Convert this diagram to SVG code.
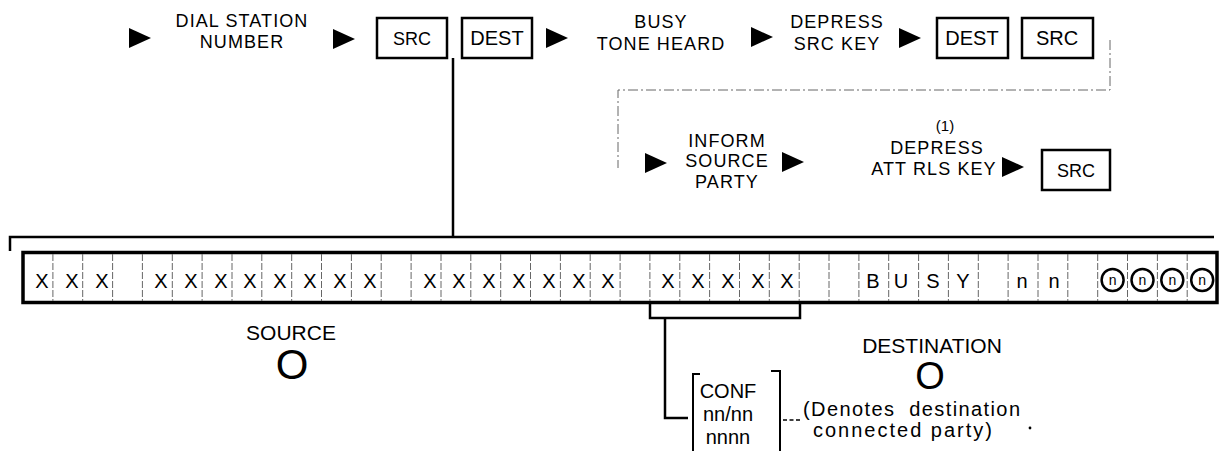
<svg xmlns="http://www.w3.org/2000/svg" width="1221" height="451" viewBox="0 0 1221 451">
<style>
.t{font-family:"Liberation Sans",Arial,Helvetica,sans-serif;font-size:20px;text-anchor:middle;fill:#000}
.l{font-size:18px;letter-spacing:1.1px}
.s{font-size:18px}
.box{fill:#fff;stroke:#000;stroke-width:2.5}
.ln{fill:none;stroke:#000;stroke-width:2.5}
.dot{fill:none;stroke:#666;stroke-width:1;stroke-dasharray:10 3 2 3}
.sep{stroke:#666;stroke-width:1;stroke-dasharray:7 2}
.circ{fill:#fff;stroke:#000;stroke-width:2.5}
</style>
<defs>
<path id="tri" d="M0,-10 L22,0 L0,10Z" fill="#000"/>
</defs>

<g id="connectors">
<path class="ln" d="M453,58 V237"/>
<path class="ln" d="M10,251 V237 H1214"/>
<path class="dot" d="M1110,40 V90 H618 V168"/>
<path class="ln" d="M650,303 V318 H800 V303"/>
<path class="ln" d="M665,318 V418 H688"/>
<line x1="783" y1="420" x2="802" y2="420" stroke="#000" stroke-width="1.5" stroke-dasharray="4 2.5"/>
</g>

<g id="arrows">
<use href="#tri" x="129" y="38"/>
<use href="#tri" x="333" y="39"/>
<use href="#tri" x="546" y="38"/>
<use href="#tri" x="751" y="37"/>
<use href="#tri" x="899" y="38"/>
<use href="#tri" x="645" y="163"/>
<use href="#tri" x="782" y="162"/>
<use href="#tri" x="1002" y="167"/>
</g>

<g id="dial-station-number">
<text class="t l" x="242" y="27">DIAL STATION</text>
<text class="t l" x="242" y="48">NUMBER</text>
</g>
<g id="key-src-1"><rect class="box" x="377" y="18" width="70" height="40"/><text class="t s" x="412" y="45">SRC</text></g>
<g id="key-dest-1"><rect class="box" x="462" y="18" width="70" height="40"/><text class="t" x="497" y="45">DEST</text></g>
<g id="busy-tone">
<text class="t l" x="661" y="28">BUSY</text>
<text class="t l" x="661" y="50">TONE HEARD</text>
</g>
<g id="depress-src">
<text class="t l" x="837" y="28">DEPRESS</text>
<text class="t l" x="837" y="50">SRC KEY</text>
</g>
<g id="key-dest-2"><rect class="box" x="937" y="18" width="71" height="40"/><text class="t" x="972" y="45">DEST</text></g>
<g id="key-src-2"><rect class="box" x="1022" y="18" width="71" height="40"/><text class="t" x="1057" y="45">SRC</text></g>

<g id="inform-source">
<text class="t l" x="727" y="147">INFORM</text>
<text class="t l" x="727" y="167">SOURCE</text>
<text class="t l" x="727" y="188">PARTY</text>
</g>
<g id="depress-att-rls">
<text class="t" style="font-size:15px" x="945" y="131">(1)</text>
<text class="t l" x="937" y="154">DEPRESS</text>
<text class="t l" x="934" y="175">ATT RLS KEY</text>
</g>
<g id="key-src-3"><rect class="box" x="1042" y="150" width="68" height="40"/><text class="t s" x="1076" y="177">SRC</text></g>

<g id="display">
<rect x="23" y="252.5" width="1194" height="50" fill="#fff" stroke="#000" stroke-width="3.5"/>
<g class="sep">
<line x1="52.9" y1="254" x2="52.9" y2="301"/><line x1="82.7" y1="254" x2="82.7" y2="301"/><line x1="112.6" y1="254" x2="112.6" y2="301"/><line x1="142.4" y1="254" x2="142.4" y2="301"/><line x1="172.3" y1="254" x2="172.3" y2="301"/><line x1="202.1" y1="254" x2="202.1" y2="301"/><line x1="232" y1="254" x2="232" y2="301"/><line x1="261.8" y1="254" x2="261.8" y2="301"/><line x1="291.7" y1="254" x2="291.7" y2="301"/><line x1="321.5" y1="254" x2="321.5" y2="301"/>
<line x1="351.4" y1="254" x2="351.4" y2="301"/><line x1="381.2" y1="254" x2="381.2" y2="301"/><line x1="411.1" y1="254" x2="411.1" y2="301"/><line x1="441" y1="254" x2="441" y2="301"/><line x1="470.8" y1="254" x2="470.8" y2="301"/><line x1="500.7" y1="254" x2="500.7" y2="301"/><line x1="530.5" y1="254" x2="530.5" y2="301"/><line x1="560.4" y1="254" x2="560.4" y2="301"/><line x1="590.2" y1="254" x2="590.2" y2="301"/><line x1="620.1" y1="254" x2="620.1" y2="301"/>
<line x1="649.9" y1="254" x2="649.9" y2="301"/><line x1="679.8" y1="254" x2="679.8" y2="301"/><line x1="709.6" y1="254" x2="709.6" y2="301"/><line x1="739.5" y1="254" x2="739.5" y2="301"/><line x1="769.3" y1="254" x2="769.3" y2="301"/><line x1="799.2" y1="254" x2="799.2" y2="301"/><line x1="829" y1="254" x2="829" y2="301"/><line x1="858.9" y1="254" x2="858.9" y2="301"/><line x1="888.7" y1="254" x2="888.7" y2="301"/><line x1="918.6" y1="254" x2="918.6" y2="301"/>
<line x1="948.4" y1="254" x2="948.4" y2="301"/><line x1="978.3" y1="254" x2="978.3" y2="301"/><line x1="1008.1" y1="254" x2="1008.1" y2="301"/><line x1="1038" y1="254" x2="1038" y2="301"/><line x1="1067.8" y1="254" x2="1067.8" y2="301"/><line x1="1097.7" y1="254" x2="1097.7" y2="301"/><line x1="1127.5" y1="254" x2="1127.5" y2="301"/><line x1="1157.4" y1="254" x2="1157.4" y2="301"/><line x1="1187.2" y1="254" x2="1187.2" y2="301"/>
</g>
<g class="t">
<text x="42" y="288">X</text><text x="72" y="288">X</text><text x="102" y="288">X</text>
<text x="161" y="288">X</text><text x="191" y="288">X</text><text x="221" y="288">X</text><text x="250" y="288">X</text><text x="280" y="288">X</text><text x="310" y="288">X</text><text x="340" y="288">X</text><text x="370" y="288">X</text>
<text x="430" y="288">X</text><text x="459" y="288">X</text><text x="489" y="288">X</text><text x="519" y="288">X</text><text x="549" y="288">X</text><text x="579" y="288">X</text><text x="608" y="288">X</text>
<text x="668" y="288">X</text><text x="698" y="288">X</text><text x="728" y="288">X</text><text x="758" y="288">X</text><text x="787" y="288">X</text>
<text x="873" y="288">B</text><text x="901" y="288">U</text><text x="933" y="288">S</text><text x="963" y="288">Y</text>
<text x="1022" y="288">n</text><text x="1054" y="288">n</text>
</g>
<circle class="circ" cx="1112.6" cy="280" r="11"/>
<circle class="circ" cx="1142.5" cy="280" r="11"/>
<circle class="circ" cx="1172.3" cy="280" r="11"/>
<circle class="circ" cx="1202.2" cy="280" r="11"/>
<g class="t" style="font-size:14px">
<text x="1112.6" y="285">n</text><text x="1142.5" y="285">n</text><text x="1172.3" y="285">n</text><text x="1202.2" y="285">n</text>
</g>
</g>

<g id="source">
<text class="t" style="font-size:21px" x="291" y="340">SOURCE</text>
<text class="t" style="font-size:42px" x="292" y="379">O</text>
</g>
<g id="destination">
<text class="t" style="font-size:21px" x="932" y="353">DESTINATION</text>
<text class="t" style="font-size:38px" x="930" y="389">O</text>
</g>

<g id="conf">
<path class="ln" style="stroke-width:2" d="M700,374 H693 V452"/>
<path class="ln" style="stroke-width:2" d="M771,371 H780 V452"/>
<text class="t" x="728" y="398">CONF</text>
<text class="t" x="728" y="421">nn/nn</text>
<text class="t" x="728" y="444">nnnn</text>
</g>
<g id="note">
<text class="t" style="text-anchor:start" x="803" y="416" textLength="217" lengthAdjust="spacing" xml:space="preserve">(Denotes  destination</text>
<text class="t" style="text-anchor:start" x="813" y="437" textLength="179" lengthAdjust="spacing">connected party)</text>
<circle cx="1030" cy="428" r="1.4" fill="#000"/>
</g>
</svg>
